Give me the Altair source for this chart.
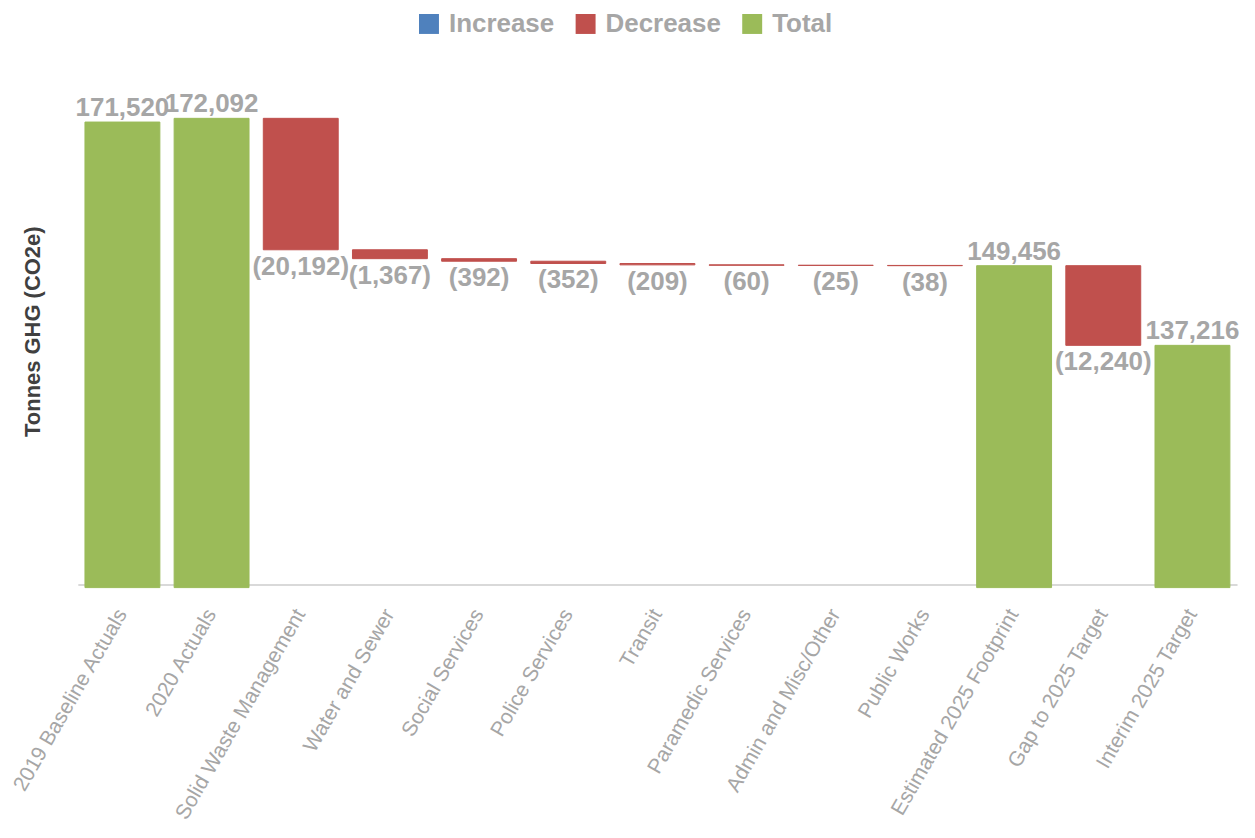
import altair as alt
import pandas as pd

categories = [
    "2019 Baseline Actuals", "2020 Actuals", "Solid Waste Management", "Water and Sewer",
    "Social Services", "Police Services", "Transit", "Paramedic Services",
    "Admin and Misc/Other", "Public Works", "Estimated 2025 Footprint",
    "Gap to 2025 Target", "Interim 2025 Target",
]
values = [171520, 172092, -20192, -1367, -392, -352, -209, -60, -25, -38, 149456, -12240, 137216]
kinds = ["Total", "Total", "Decrease", "Decrease", "Decrease", "Decrease", "Decrease",
         "Decrease", "Decrease", "Decrease", "Total", "Decrease", "Total"]
axis_min, axis_max = 100000, 180000

rows = []
level = 0
for c, v, k in zip(categories, values, kinds):
    if k == "Total":
        start, end = axis_min, v
        level = v
        label = f"{v:,}"
    else:
        start, end = level, level + v
        level = end
        label = f"({abs(v):,})" if v < 0 else f"{v:,}"
    rows.append(dict(category=c, kind=k, start=start, end=end, label=label,
                     top=max(start, end), bottom=min(start, end)))
df = pd.DataFrame(rows)

FONT = "Liberation Sans"
GRAY = "#A6A6A6"
dom = ["Increase", "Decrease", "Total"]
rng = ["#4F81BD", "#C0504D", "#9BBB59"]

x = alt.X("category:N", sort=categories, title=None,
          scale=alt.Scale(paddingInner=0.16, paddingOuter=0.08),
          axis=alt.Axis(labelAngle=-60, labelFontSize=21, labelColor=GRAY, labelFont=FONT,
                        labelLimit=400, labelPadding=26, ticks=False, domainColor="#D9D9D9",
                        domainWidth=2, labelAlign="right", labelBaseline="middle", offset=-3))

color = alt.Color("kind:N", title=None, scale=alt.Scale(domain=dom, range=rng),
                  legend=alt.Legend(orient="none", legendX=339, legendY=-56, direction="horizontal",
                                    symbolType="square", symbolSize=400, symbolStrokeWidth=0,
                                    labelFontSize=26, labelFont=FONT, labelFontWeight="bold",
                                    labelColor=GRAY, columnPadding=18, labelOffset=7))

bars = alt.Chart(df).mark_bar(strokeWidth=1).encode(
    x=x,
    y=alt.Y("start:Q", scale=alt.Scale(domain=[axis_min, axis_max], nice=False, zero=False),
            axis=alt.Axis(labels=False, ticks=False, domain=False, grid=False,
                          title="Tonnes GHG (CO2e)", titleFontSize=22, titleFont=FONT,
                          titleFontWeight="bold", titleColor="#404040", titleX=-45, titleY=265,
                          titleAngle=-90, titleAlign="center", titleBaseline="middle")),
    y2="end:Q",
    color=color,
    stroke=alt.Stroke("kind:N", scale=alt.Scale(domain=dom, range=rng), legend=None),
)

total_labels = alt.Chart(df).transform_filter(alt.datum.kind == "Total").mark_text(
    baseline="bottom", dy=-1, fontSize=26, fontWeight="bold", font=FONT, color=GRAY
).encode(x=alt.X("category:N", sort=categories), y="top:Q", text="label:N")

dec_labels = alt.Chart(df).transform_filter(alt.datum.kind != "Total").mark_text(
    baseline="top", dy=4, fontSize=26, fontWeight="bold", font=FONT, color=GRAY
).encode(x=alt.X("category:N", sort=categories), y="bottom:Q", text="label:N")

chart = alt.layer(bars, total_labels, dec_labels).properties(
    width=1162, height=522,
    autosize=alt.AutoSizeParams(type="none"),
    padding={"left": 70, "top": 58, "right": 10, "bottom": 250},
).configure_view(stroke=None)

chart.save("out.html", embed_options={"renderer": "svg", "actions": False})
